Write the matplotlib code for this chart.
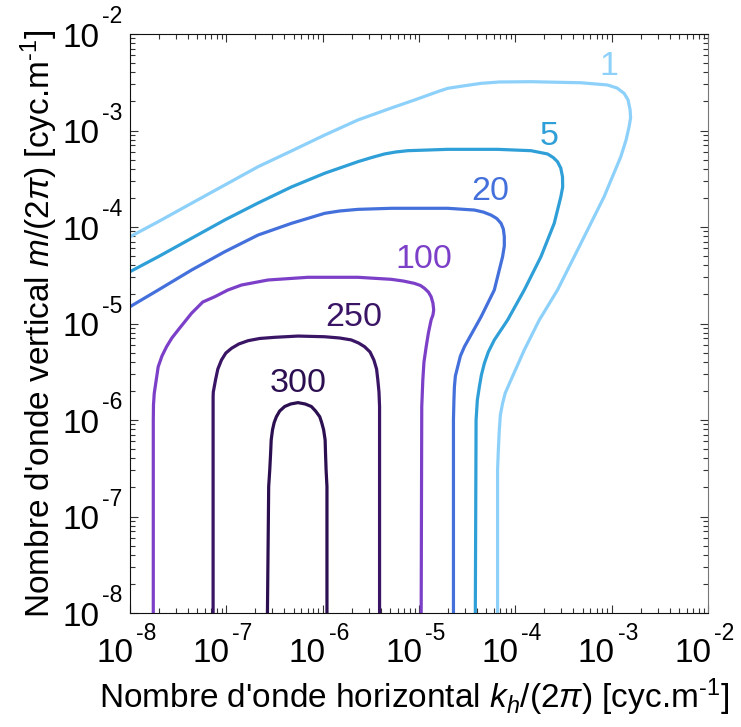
import matplotlib
matplotlib.use('Agg')
import matplotlib.pyplot as plt
import numpy as np

plt.rcParams['font.family'] = ['Liberation Sans', 'DejaVu Sans']
plt.rcParams['mathtext.fontset'] = 'custom'
plt.rcParams['mathtext.rm'] = 'Liberation Sans'
plt.rcParams['mathtext.it'] = 'Liberation Sans:italic'

# contour levels (log10 of kh/(2pi) and m/(2pi))
levels = ['1', '5', '20', '100', '250', '300']
colors = ['#8dd1fb', '#2f9fd8', '#4470dc', '#7c3fc8', '#3a1566', '#2b0f50']

lkh_1 = [-8.0, -7.707, -7.361, -7.016, -6.67, -6.324, -5.979, -5.634, -5.288, -5.047, -4.788,
         -4.702, -4.58, -4.355, -4.166, -3.837, -3.319, -3.043, -2.943, -2.87, -2.829, -2.808,
         -2.803, -2.819, -2.85, -2.905, -3.078, -3.319, -3.562, -3.751, -3.907, -4.045, -4.104,
         -4.132, -4.155, -4.166, -4.176, -4.184, -4.184]
lm_1 = [-4.101, -3.945, -3.754, -3.565, -3.375, -3.212, -3.047, -2.891, -2.767, -2.684, -2.591,
        -2.563, -2.544, -2.511, -2.497, -2.494, -2.505, -2.528, -2.56, -2.615, -2.684, -2.788,
        -2.87, -2.961, -3.098, -3.272, -3.686, -4.169, -4.653, -4.964, -5.275, -5.585, -5.72,
        -5.827, -5.948, -6.104, -6.311, -6.518, -8.0]

lkh_5 = [-8.0, -7.707, -7.361, -7.016, -6.67, -6.324, -5.979, -5.634, -5.492, -5.358, -5.244,
         -5.116, -4.702, -4.184, -3.837, -3.665, -3.606, -3.562, -3.528, -3.51, -3.508, -3.527,
         -3.596, -3.734, -3.907, -4.08, -4.218, -4.28, -4.321, -4.352, -4.373, -4.394, -4.407,
         -4.415]
lm_5 = [-4.463, -4.308, -4.117, -3.927, -3.751, -3.585, -3.443, -3.323, -3.28, -3.243, -3.223,
        -3.209, -3.195, -3.195, -3.209, -3.243, -3.28, -3.323, -3.389, -3.479, -3.585, -3.686,
        -3.962, -4.308, -4.653, -4.964, -5.171, -5.295, -5.412, -5.534, -5.655, -5.793, -6.0,
        -8.0]

lkh_20 = [-8.0, -7.707, -7.361, -7.016, -6.67, -6.324, -5.979, -5.824, -5.634, -5.288, -4.702,
          -4.425, -4.332, -4.252, -4.192, -4.148, -4.124, -4.114, -4.114, -4.132, -4.218, -4.355,
          -4.528, -4.57, -4.598, -4.622, -4.632, -4.637, -4.642, -4.642]
lm_20 = [-4.826, -4.653, -4.446, -4.256, -4.083, -3.962, -3.858, -3.834, -3.817, -3.806, -3.806,
         -3.824, -3.845, -3.876, -3.912, -3.962, -4.021, -4.101, -4.197, -4.308, -4.653, -4.93,
         -5.24, -5.337, -5.448, -5.544, -5.655, -5.793, -6.0, -8.0]

lkh_100 = [-7.758, -7.758, -7.756, -7.748, -7.707, -7.668, -7.62, -7.565, -7.5, -7.361, -7.244,
           -7.119, -6.984, -6.842, -6.567, -6.152, -5.634, -5.288, -5.161, -5.047, -4.984, -4.943,
           -4.902, -4.874, -4.855, -4.847, -4.855, -4.874, -4.902, -4.925, -4.948, -4.96, -4.971,
           -4.977]
lm_100 = [-8.0, -6.0, -5.845, -5.723, -5.448, -5.337, -5.24, -5.15, -5.067, -4.894, -4.777,
          -4.722, -4.653, -4.601, -4.549, -4.521, -4.521, -4.542, -4.56, -4.584, -4.606, -4.635,
          -4.674, -4.722, -4.788, -4.86, -4.912, -4.964, -5.098, -5.24, -5.399, -5.585, -5.862,
          -8.0]

lkh_250 = [-7.137, -7.137, -7.135, -7.112, -7.088, -7.05, -7.005, -6.946, -6.87, -6.774, -6.653,
           -6.497, -6.256, -5.979, -5.824, -5.703, -5.627, -5.565, -5.508, -5.468, -5.44, -5.427,
           -5.415, -5.409, -5.409]
lm_250 = [-8.0, -5.76, -5.71, -5.585, -5.472, -5.378, -5.306, -5.257, -5.212, -5.178, -5.155,
          -5.143, -5.13, -5.137, -5.15, -5.17, -5.202, -5.24, -5.295, -5.378, -5.472, -5.585,
          -5.71, -5.86, -8.0]

lkh_300 = [-6.573, -6.56, -6.549, -6.54, -6.534, -6.52, -6.503, -6.48, -6.446, -6.394, -6.332,
           -6.256, -6.181, -6.117, -6.073, -6.03, -6.01, -5.99, -5.974, -5.97, -5.964, -5.955,
           -5.955]
lm_300 = [-8.0, -6.69, -6.518, -6.345, -6.207, -6.1, -6.026, -5.966, -5.907, -5.86, -5.834,
          -5.82, -5.834, -5.86, -5.907, -5.966, -6.026, -6.1, -6.207, -6.345, -6.518, -6.69,
          -8.0]

# label anchors (log10 coordinates)
lab_kh = [-3.03, -3.65, -4.26, -4.95, -5.68, -6.25]
lab_m = [-2.34, -3.06, -3.63, -4.34, -4.94, -5.62]

decades = [-8, -7, -6, -5, -4, -3, -2]

curves = [(lkh_1, lm_1), (lkh_5, lm_5), (lkh_20, lm_20),
          (lkh_100, lm_100), (lkh_250, lm_250), (lkh_300, lm_300)]

fig = plt.figure(figsize=(7.41, 7.27), dpi=100)
ax = fig.add_axes([0.1754, 0.1568, 0.78, 0.7964])

for (kx, my), c in zip(curves, colors):
    ax.plot(10 ** np.array(kx), 10 ** np.array(my), color=c, lw=2.3,
            solid_joinstyle='round', solid_capstyle='butt')

for lev, c, x, y in zip(levels, colors, lab_kh, lab_m):
    ax.text(10 ** x, 10 ** y, lev, color=c, fontsize=24.5, ha='center', va='center')

ax.set_xscale('log')
ax.set_yscale('log')
ax.set_xlim(1e-8, 1e-2)
ax.set_ylim(1e-8, 1e-2)

ticks = [10.0 ** d for d in decades]
ax.set_xticks(ticks)
ax.set_yticks(ticks)
ax.set_xticklabels([])
ax.set_yticklabels([])

# tick labels drawn as "10" plus a raised exponent, like the original
for d in decades:
    ax.annotate('10', xy=(10.0 ** d, 0), xycoords=('data', 'axes fraction'),
                xytext=(2.2, -35.6), textcoords='offset points',
                ha='right', va='baseline', fontsize=24)
    ax.annotate('-%d' % -d, xy=(10.0 ** d, 0), xycoords=('data', 'axes fraction'),
                xytext=(4.3, -19.4), textcoords='offset points',
                ha='left', va='baseline', fontsize=16.5)
    ax.annotate('10', xy=(0, 10.0 ** d), xycoords=('axes fraction', 'data'),
                xytext=(-21.6, -9.0), textcoords='offset points',
                ha='right', va='baseline', fontsize=24)
    ax.annotate('-%d' % -d, xy=(0, 10.0 ** d), xycoords=('axes fraction', 'data'),
                xytext=(-5.5, 7.6), textcoords='offset points',
                ha='right', va='baseline', fontsize=16.5)

ax.tick_params(which='both', direction='in', top=True, right=True, color='#333333')
ax.tick_params(which='major', length=6, width=0.8)
ax.tick_params(which='minor', length=3.5, width=0.8)
for s in ['left', 'bottom', 'top']:
    ax.spines[s].set_color('#111111')
ax.spines['right'].set_color('#777777')

ax.set_xlabel(r"Nombre d'onde horizontal $k_h/(2\pi)$ [cyc.m$^{\text{-1}}$]", fontsize=24,
              va='baseline')
ax.xaxis.set_label_coords(0.492, -0.164)
ax.set_ylabel(r"Nombre d'onde vertical $m/(2\pi)$ [cyc.m$^{\text{-1}}$]", fontsize=24,
              va='baseline')
ax.yaxis.set_label_coords(-0.138, 0.5)

fig.savefig('out.png', dpi=100)
